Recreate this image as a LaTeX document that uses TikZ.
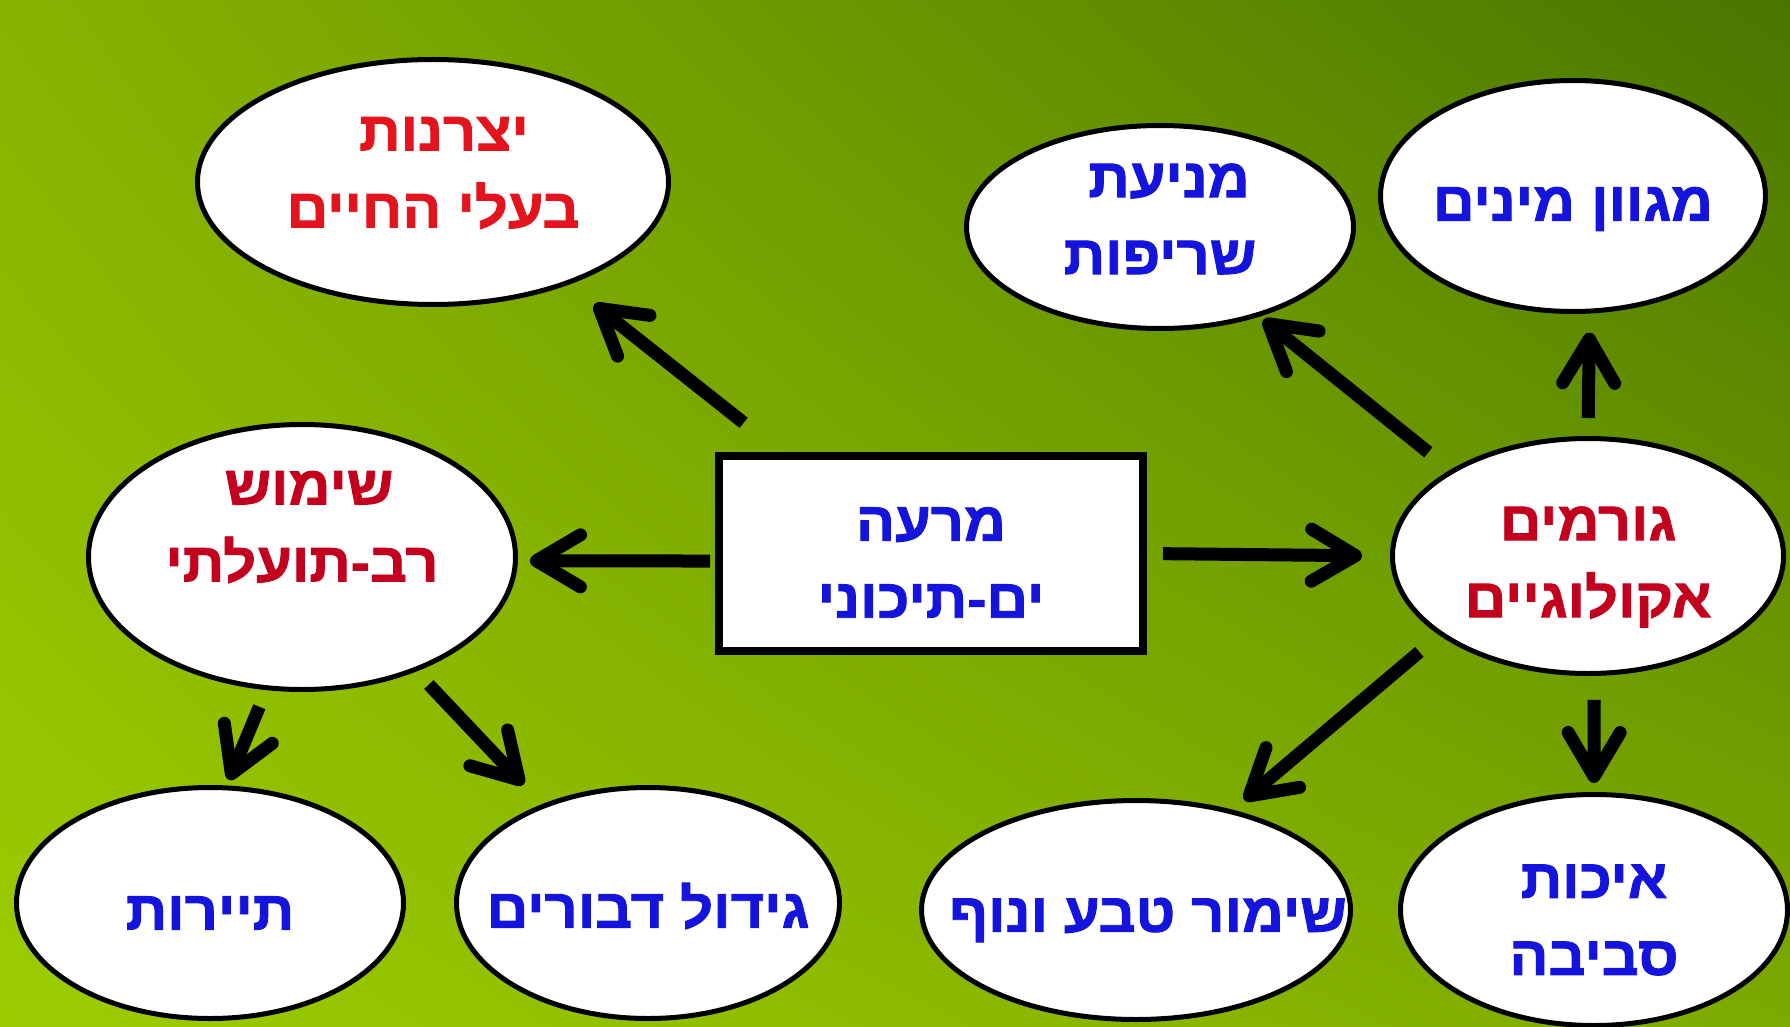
\documentclass[tikz,border=0pt]{standalone}
\usepackage{fontspec}
\usetikzlibrary{shapes.geometric,arrows.meta,shadings}
\TeXXeTstate=1
\newfontfamily\hebfont[Script=Hebrew, BoldFeatures={FakeBold=1.6, FakeStretch=1.05}]{Liberation Sans}
\newcommand\hebtxt{\hebfont\bfseries\fontsize{55}{77}\selectfont}
\newcommand\heline[1]{\beginR #1\endR}
\definecolor{bgUL}{HTML}{87B300}
\definecolor{bgUR}{HTML}{497600}
\definecolor{bgLL}{HTML}{9CCC00}
\definecolor{bgLR}{HTML}{7DAA00}
\definecolor{txtblue}{HTML}{1414DC}
\definecolor{txtred}{HTML}{E3141E}
\definecolor{txtdred}{HTML}{C3001E}
\tikzset{
  bub/.style={ellipse, draw=black, line width=5pt, fill=white, inner sep=0pt},
  mainbox/.style={rectangle, draw=black, line width=8pt, fill=white, inner sep=0pt},
  lbl/.style={inner sep=0pt, align=center, font=\hebtxt},
  arr/.style={draw=black, line width=13pt, -{Straight Barb[length=44pt,width=52pt,round]}}
}
\begin{document}
\begin{tikzpicture}[x=1pt,y=-1pt]
\shade[upper left=bgUL, upper right=bgUR, lower left=bgLL, lower right=bgLR] (0,0) rectangle (1790,1027);
\useasboundingbox (0,0) rectangle (1790,1027);

% shapes
\node[bub, minimum width=471pt, minimum height=245pt] (yz) at (433,182) {};
\node[bub, minimum width=427pt, minimum height=265pt] (sh) at (302,557) {};
\node[bub, minimum width=387pt, minimum height=231pt] (ty) at (210,903) {};
\node[bub, minimum width=383pt, minimum height=231pt] (gd) at (648,903) {};
\node[mainbox, minimum width=424pt, minimum height=195pt] (box) at (931,553.5) {};
\node[bub, minimum width=391pt, minimum height=235pt] (gr) at (1588,556) {};
\node[bub, minimum width=387pt, minimum height=203pt] (mn) at (1160,227) {};
\node[bub, minimum width=385pt, minimum height=231pt] (mg) at (1573,196) {};
\node[bub, minimum width=429pt, minimum height=219pt] (sm) at (1136,910) {};
\node[bub, minimum width=387pt, minimum height=231pt] (ik) at (1594,910) {};

% texts
\node[lbl, text=txtred, yshift=9pt] (yzt) at (yz) {\hspace*{22pt}\heline{יצרנות}\\\heline{בעלי החיים}};
\node[lbl, text=txtdred, yshift=30pt] (sht) at (sh) {\hspace*{14pt}\heline{שימוש}\\\heline{רב-תועלתי}};
\node[lbl, text=txtblue, yshift=-10pt] (tyt) at (ty) {\heline{תיירות}};
\node[lbl, text=txtblue, yshift=-3pt] (gdt) at (gd) {\heline{גידול דבורים}};
\node[lbl, text=txtblue, yshift=-9pt] (boxt) at (box) {\heline{מרעה}\\\heline{ים-תיכוני}};
\node[lbl, text=txtdred, yshift=-11pt] (grt) at (gr) {\heline{גורמים}\\\heline{אקולוגיים}};
\node[lbl, text=txtblue, yshift=8pt] (mnt) at (mn) {\hspace*{18pt}\heline{מניעת}\\\heline{שריפות}};
\node[lbl, text=txtblue, yshift=-13pt] (mgt) at (mg) {\heline{מגוון מינים}};
\node[lbl, text=txtblue, yshift=-10pt, xshift=12pt] (smt) at (sm) {\heline{שימור טבע ונוף}};
\node[lbl, text=txtblue, yshift=-10pt] (ikt) at (ik) {\heline{איכות}\\\heline{סביבה}};

% connectors
\draw[arr, shorten <=47pt, shorten >=32pt] (box.146.3) -- (yz.-37.6);
\draw[arr, shorten <=5pt, shorten >=12pt] (box.182) -- (sh.-1);
\draw[arr, shorten <=16pt, shorten >=28pt] (box.0) -- (gr.180);
\draw[arr, shorten <=18pt, shorten >=6pt] (sh.-105.5) -- (ty.82.8);
\draw[arr, shorten <=18pt, shorten >=27pt] (sh.-45.6) -- (gd.137.2);
\draw[arr, shorten <=28pt, shorten >=5pt] (gr.148.5) -- (mn.-42.2);
\draw[arr, shorten <=18pt, shorten >=19pt] (gr.90) -- (mg.-82.7);
\draw[arr, shorten <=26pt, shorten >=15pt] (gr.208.5) -- (sm.46.4);
\draw[arr, shorten <=24pt, shorten >=9pt] (gr.-87.6) -- (ik.90);
\end{tikzpicture}
\end{document}
